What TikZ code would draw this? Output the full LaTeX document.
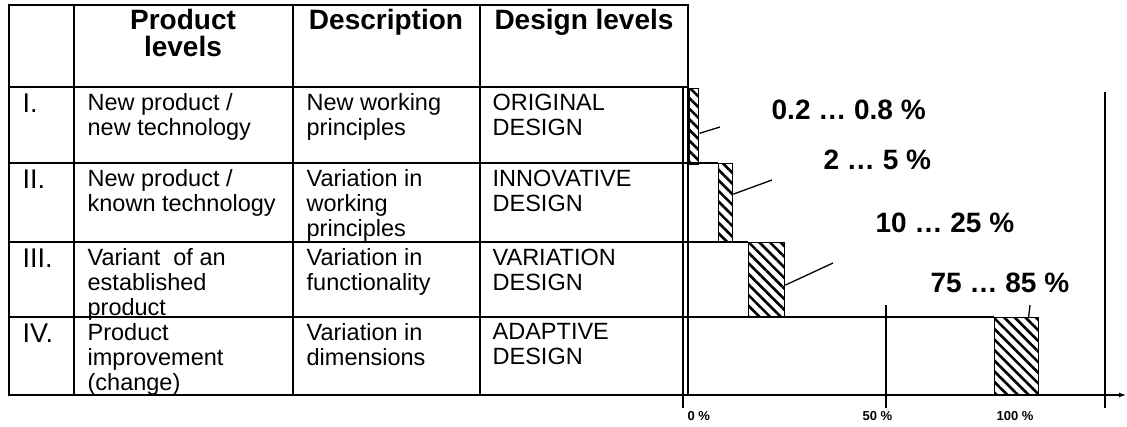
\documentclass[tikz,border=0pt]{standalone}
\usepackage{fontspec}
\setmainfont{Liberation Sans}
\usetikzlibrary{arrows.meta,patterns.meta}

\tikzset{
  cell/.style={anchor=north west,inner sep=0pt,align=left,font=\fontsize{23.5}{25}\selectfont},
  head/.style={anchor=north,inner sep=0pt,align=center,font=\fontsize{28}{27}\selectfont\bfseries},
  roman/.style={anchor=north west,inner sep=0pt,font=\fontsize{27}{27}\selectfont},
  share/.style={anchor=west,inner sep=0pt,font=\fontsize{28}{28}\selectfont\bfseries},
  axlab/.style={anchor=west,inner sep=0pt,font=\fontsize{13}{13}\selectfont\bfseries},
  bar/.style={draw,line width=1.3pt,inner sep=0pt,anchor=north west,
    pattern={Lines[angle=-45,distance=7.5pt,line width=2.6pt]}},
}

\begin{document}
\begin{tikzpicture}[x=1pt,y=-1pt,line width=1.3pt]
\useasboundingbox (0,0) rectangle (1127,427);

% table frame and rules
\draw (9,5) rectangle (688,395);
\draw (74,5) -- (74,395);
\draw (293,5) -- (293,395);
\draw (480,5) -- (480,395);
\draw (9,87) -- (688,87);
\draw (9,163) -- (718,163);
\draw (9,242) -- (748,242);
\draw (9,317) -- (994,317);

% header
\node[head] (hprod) at (183,9) {Product\\levels};
\node[head] (hdesc) at (386,9) {Description};
\node[head] (hdesi) at (584,9) {Design levels};

% row I
\node[roman] (rI) at (22,93) {I.};
\node[cell] (pI) at (87,93) {New product /\\new technology};
\node[cell] (dI) at (306,93) {New working\\principles};
\node[cell] (lI) at (492,93) {ORIGINAL\\DESIGN};

% row II
\node[roman] (rII) at (22,169) {II.};
\node[cell] (pII) at (87,169) {New product /\\known technology};
\node[cell] (dII) at (306,169) {Variation in\\working\\principles};
\node[cell] (lII) at (492,169) {INNOVATIVE\\DESIGN};

% row III
\node[roman] (rIII) at (22,248) {III.};
\node[cell] (pIII) at (87,248) {Variant\ \ of an\\established\\product};
\node[cell] (dIII) at (306,248) {Variation in\\functionality};
\node[cell] (lIII) at (492,248) {VARIATION\\DESIGN};

% row IV
\node[roman] (rIV) at (22,323) {IV.};
\node[cell] (pIV) at (87,323) {Product\\improvement\\(change)};
\node[cell] (dIV) at (306,323) {Variation in\\dimensions};
\node[cell] (lIV) at (492,323) {ADAPTIVE\\DESIGN};

% axes
\draw (683,87) -- (683,408);
\draw[-{Latex[length=7pt,width=5pt]}] (683,395) -- (1126,395);
\draw (886,305) -- (886,408);
\draw (1105,92) -- (1105,408);

\node[axlab] (ax0) at (687,416) {0 \%};
\node[axlab] (ax50) at (862,416) {50 \%};
\node[axlab] (ax100) at (996,416) {100 \%};

% bars
\node[bar,minimum width=9pt,minimum height=76pt] (barI) at (688,87) {};
\node[bar,minimum width=14pt,minimum height=79pt] (barII) at (718,163) {};
\node[bar,minimum width=36pt,minimum height=75pt] (barIII) at (748,242) {};
\node[bar,minimum width=44pt,minimum height=78pt] (barIV) at (994,317) {};

% shares
\node[share] (sI) at (771,110) {0.2 … 0.8 \%};
\node[share] (sII) at (823,160) {2 … 5 \%};
\node[share] (sIII) at (875,223) {10 … 25 \%};
\node[share] (sIV) at (930,283) {75 … 85 \%};

\coordinate (tI) at (720,127);
\coordinate (tII) at (772,180);
\coordinate (tIII) at (833,263);
\coordinate (tIV) at (1030,305);
\draw ([yshift=-7pt]barI.east) -- (tI);
\draw ([yshift=9pt]barII.east) -- (tII);
\draw ([yshift=-5pt]barIII.east) -- (tIII);
\draw ([xshift=12pt]barIV.north) -- (tIV);

\end{tikzpicture}
\end{document}
